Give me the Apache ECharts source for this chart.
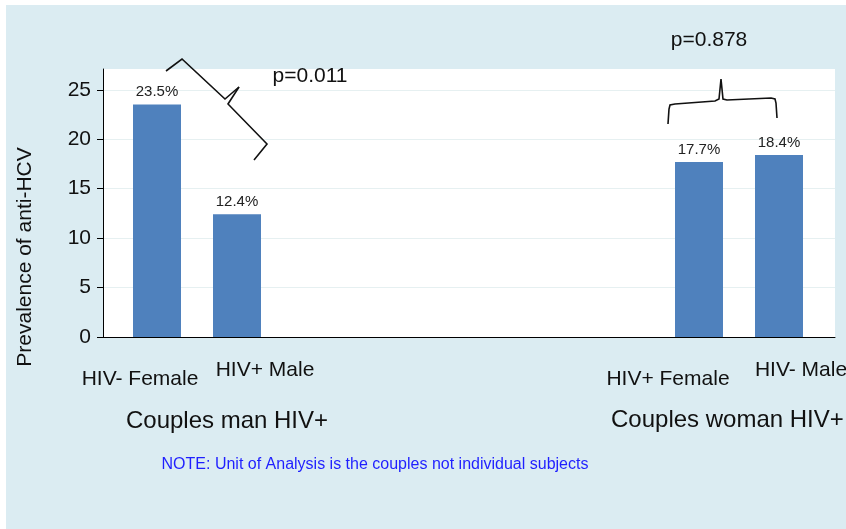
<!DOCTYPE html>
<html>
<head>
<meta charset="utf-8">
<script src="https://cdn.jsdelivr.net/npm/echarts@6/dist/echarts.min.js"></script>
<style>
  html, body { margin: 0; padding: 0; background: #fff; }
  #main { width: 846px; height: 529px; }
</style>
</head>
<body>
<div id="main"></div>
<script>
    // data
    var groupNames  = ['Couples man HIV+', 'Couples woman HIV+'];
    var leftCats    = ['HIV- Female', 'HIV+ Male'];
    var leftValues  = [23.5, 12.4];
    var rightCats   = ['HIV+ Female', 'HIV- Male'];
    var rightValues = [17.7, 18.4];
    var yTicks      = [0, 5, 10, 15, 20, 25];
    var pValues     = ['p=0.011', 'p=0.878'];
    var noteText    = 'NOTE: Unit of Analysis is the couples not individual subjects';

    var FONT = 'Liberation Sans, Arial, sans-serif';
    var BLUE = '#4f81bd';
    var YMAX = 27.1;

    var myChart = echarts.init(document.getElementById('main'));

    // stagger / shift of the category labels like in the picture
    var leftPad  = [[9, 34, 0, 0], [0, 0, 0, 56]];
    var rightPad = [[9, 62, 0, 0], [0, 0, 0, 44]];

    function catData(cats, pads) {
        return cats.map(function (c, i) {
            return { value: c, textStyle: { padding: pads[i] } };
        });
    }

    function hiddenY(idx) {
        return { gridIndex: idx, type: 'value', min: 0, max: YMAX, show: false };
    }

    function dataX(idx, cats, pads) {
        return {
            gridIndex: idx,
            type: 'category',
            data: catData(cats, pads),
            axisLine: { show: false },
            axisTick: { show: false },
            axisLabel: { interval: 0, margin: 23, fontSize: 21, color: '#111', fontFamily: FONT }
        };
    }

    function barSeries(idx, values) {
        return {
            type: 'bar',
            xAxisIndex: idx,
            yAxisIndex: idx,
            barWidth: 48,
            data: values,
            itemStyle: { color: BLUE },
            label: {
                show: true,
                position: 'top',
                distance: 5,
                formatter: '{c}%',
                fontSize: 15,
                color: '#222',
                fontFamily: FONT
            }
        };
    }

    var braceStyle = { stroke: '#111', lineWidth: 1.6, fill: null };

    var option = {
        animation: false,
        backgroundColor: '#fff',
        textStyle: { fontFamily: FONT },
        graphic: [
            { type: 'rect', z: -10, shape: { x: 6, y: 5, width: 840, height: 524 }, style: { fill: '#dbecf2' } },
            // y axis name
            { type: 'text', x: 25, y: 257, rotation: Math.PI / 2,
              style: { text: 'Prevalence of anti-HCV', font: '21px ' + FONT, fill: '#111', align: 'center', verticalAlign: 'middle' } },
            // group names
            { type: 'text', x: 227, y: 421,
              style: { text: groupNames[0], font: '24px ' + FONT, fill: '#111', align: 'center', verticalAlign: 'middle' } },
            { type: 'text', x: 611, y: 420,
              style: { text: groupNames[1], font: '24px ' + FONT, fill: '#111', align: 'left', verticalAlign: 'middle' } },
            // note
            { type: 'text', x: 375, y: 465,
              style: { text: noteText, font: '16px ' + FONT, fill: '#1f1fff', align: 'center', verticalAlign: 'middle' } },
            // p values
            { type: 'text', x: 310, y: 76,
              style: { text: pValues[0], font: '21px ' + FONT, fill: '#111', align: 'center', verticalAlign: 'middle' } },
            { type: 'text', x: 709, y: 40,
              style: { text: pValues[1], font: '21px ' + FONT, fill: '#111', align: 'center', verticalAlign: 'middle' } },
            // braces
            { type: 'polyline', z: 20, shape: { points: [[166, 71], [182, 59], [225, 99], [239, 87]] }, style: braceStyle },
            { type: 'polyline', z: 20, shape: { points: [[239, 87], [228, 104], [267, 144], [254, 160]] }, style: braceStyle },
            { type: 'polyline', z: 20,
              shape: { points: [[668, 124], [669, 109], [670, 105], [675, 104], [715, 101], [719, 99], [721, 79],
                                [723, 99], [727, 100], [771, 98], [775, 99], [776, 103], [777, 118]] },
              style: braceStyle }
        ],
        grid: [
            { left: 103, top: 69, width: 732, height: 268, show: true, backgroundColor: '#fff', borderWidth: 0, outerBoundsMode: 'none' },
            { left: 117, top: 69, width: 160, height: 268, outerBoundsMode: 'none' },
            { left: 659, top: 69, width: 160, height: 268, outerBoundsMode: 'none' }
        ],
        xAxis: [
            {
                gridIndex: 0, type: 'value', min: 0, max: 1,
                axisLine: { show: true, lineStyle: { color: '#000', width: 1 } },
                axisTick: { show: false },
                axisLabel: { show: false },
                splitLine: { show: false }
            },
            dataX(1, leftCats, leftPad),
            dataX(2, rightCats, rightPad)
        ],
        yAxis: [
            {
                gridIndex: 0, type: 'value', min: 0, max: YMAX, interval: 5,
                axisLine: { show: true, lineStyle: { color: '#000', width: 1 } },
                axisTick: { show: true, length: 6, customValues: yTicks, lineStyle: { color: '#000' } },
                axisLabel: { margin: 12, fontSize: 21, color: '#111', fontFamily: FONT, customValues: yTicks },
                splitLine: { show: true, lineStyle: { color: '#e6f0f1', width: 1 } }
            },
            hiddenY(1),
            hiddenY(2)
        ],
        series: [
            barSeries(1, leftValues),
            barSeries(2, rightValues)
        ]
    };

    myChart.setOption(option);
</script>
</body>
</html>
